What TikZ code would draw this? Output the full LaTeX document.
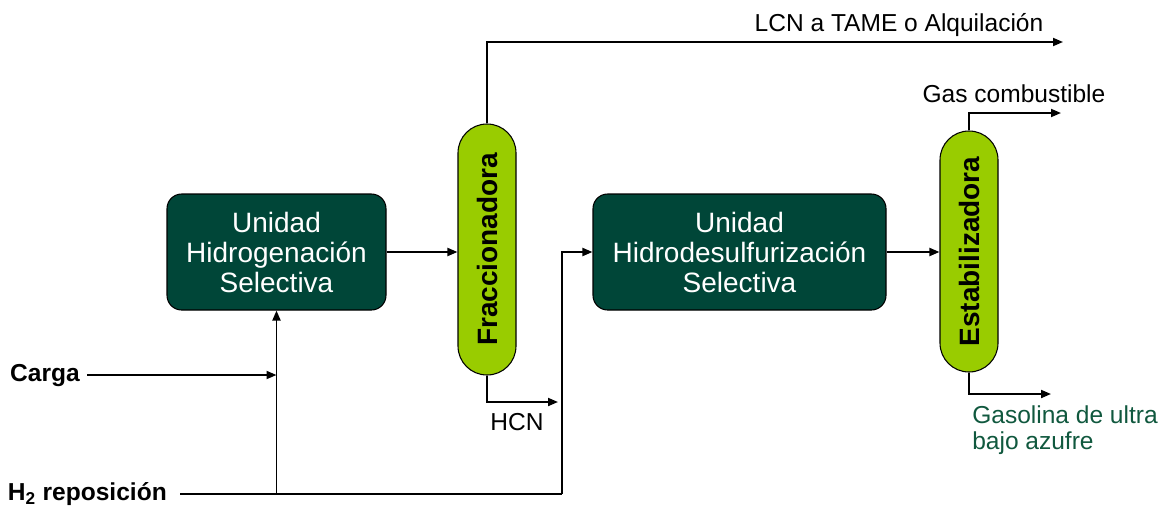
\documentclass[tikz,border=0pt]{standalone}
\usepackage{fontspec}
\setmainfont{Liberation Sans}
\usetikzlibrary{arrows.meta,calc}
\definecolor{boxgreen}{RGB}{0,70,56}
\definecolor{colgreen}{RGB}{153,204,0}
\definecolor{txtgreen}{RGB}{16,88,62}
\tikzset{
  unit/.style={draw=black, line width=0.8pt, fill=boxgreen, rounded corners=11pt, text=white,
    align=center, font=\fontsize{21}{22.5}\selectfont, inner sep=0pt},
  column/.style={draw=black, line width=0.8pt, fill=colgreen, rounded corners=21.7pt,
    minimum width=43.5pt, inner sep=0pt, font=\fontsize{21}{24}\selectfont\bfseries},
  lab/.style={inner sep=0pt, font=\fontsize{18.4}{20}\selectfont},
  blab/.style={inner sep=0pt, font=\fontsize{18.4}{20}\selectfont\bfseries},
  flow/.style={line width=1.4pt, -{Triangle[length=7.5pt,width=6pt]}},
  pipe/.style={line width=1.4pt}
}
\begin{document}
\begin{tikzpicture}[x=0.75pt, y=-0.75pt]
\useasboundingbox (0,0) rectangle (1167,508);
% units
\node[unit, minimum width=164.25pt, minimum height=87pt] (hgs) at (276.5,252) {Unidad\\Hidrogenación\\Selectiva};
\node[unit, minimum width=219.75pt, minimum height=87pt] (hds) at (739.5,252) {Unidad\\Hidrodesulfurización\\Selectiva};
\node[column, minimum height=188.25pt] (frac) at (487,249.5) {\rotatebox{90}{Fraccionadora}};
\node[column, minimum height=180.75pt] (estab) at (969,251.5) {\rotatebox{90}{Estabilizadora}};
% coordinates
\coordinate (cargaS) at (87,375);
\coordinate (h2S) at (180,494);
\coordinate (h2T) at (562,494);
\coordinate (lcnE) at (1063,42);
\coordinate (hcnE) at (558,402);
\coordinate (gasE) at (1061,113);
\coordinate (gsoE) at (1051,394);
% labels
\node[blab, anchor=base east] (carga) at (80,381) {Carga};
\node[blab, anchor=base east] (h2) at (167,500) {H\textsubscript{2} reposición};
\node[lab, anchor=base] (lcn) at (899,31) {LCN a TAME o Alquilación};
\node[lab, anchor=base] (hcn) at (517,430) {HCN};
\node[lab, anchor=base] (gas) at (1014,102) {Gas combustible};
\node[inner sep=0pt, anchor=north west, align=left, text=txtgreen, font=\fontsize{18.4}{20}\selectfont] (gso) at (972,405) {Gasolina de ultra\\bajo azufre};
% connectors
\draw[flow] (cargaS) -- (cargaS -| hgs.south);
\draw[pipe] (h2S) -- (h2T);
\draw[flow] (h2S -| hgs.south) -- (hgs.south);
\draw[flow] (h2T) |- (hds.west);
\draw[flow] (hgs.east) -- (hgs.east -| frac.west);
\draw[flow] (frac.north) |- (lcnE);
\draw[flow] (frac.south) |- (hcnE);
\draw[flow] (hds.east) -- (hds.east -| estab.west);
\draw[flow] (estab.north) |- (gasE);
\draw[flow] (estab.south) |- (gsoE);
\end{tikzpicture}
\end{document}
